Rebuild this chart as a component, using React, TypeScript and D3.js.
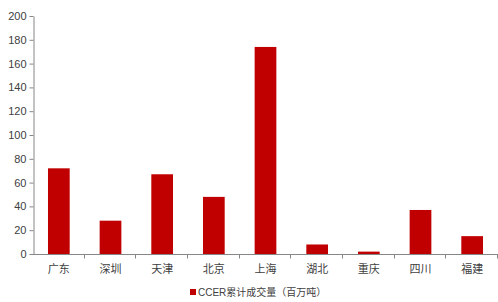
import React, { useRef, useEffect } from "react";
import * as d3 from "d3";

const categories = ["广东", "深圳", "天津", "北京", "上海", "湖北", "重庆", "四川", "福建"];
const volumes = [72, 28, 67, 48, 174, 8, 2, 37, 15];
const yTicks = [0, 20, 40, 60, 80, 100, 120, 140, 160, 180, 200];
const seriesName = "CCER累计成交量（百万吨）";

const App = () => {
  const ref = useRef<SVGSVGElement>(null);

  useEffect(() => {
    const width = 498;
    const height = 302;
    const margin = { top: 16, right: 0, bottom: 48, left: 33 };
    const font = "'Liberation Sans', Arial, 'Noto Sans CJK SC', sans-serif";

    const svg = d3.select(ref.current);
    svg.selectAll("*").remove();

    const x = d3
      .scaleBand()
      .domain(categories)
      .range([margin.left, width - margin.right])
      .paddingInner(0.58)
      .paddingOuter(0.29);
    const xAxisScale = d3.scaleBand().domain(categories).range([margin.left, width - margin.right]);
    const y = d3.scaleLinear().domain([0, 200]).range([height - margin.bottom, margin.top]);

    // bars
    svg
      .append("g")
      .selectAll("rect")
      .data(categories)
      .enter()
      .append("rect")
      .attr("x", (d) => x(d)!)
      .attr("y", (d, i) => y(volumes[i]))
      .attr("width", x.bandwidth())
      .attr("height", (d, i) => y(0) - y(volumes[i]))
      .attr("fill", "#C00000");

    const axisColor = "#868686";

    // y axis
    const yAxis = svg
      .append("g")
      .attr("transform", `translate(${margin.left + 0.5},0)`)
      .call(d3.axisLeft(y).tickValues(yTicks).tickSize(4).tickSizeOuter(0).tickPadding(3));
    yAxis.select(".domain").attr("stroke", axisColor);
    yAxis.selectAll(".tick line").attr("stroke", axisColor);
    yAxis.selectAll(".tick text").attr("fill", "#404040").style("font-family", font).style("font-size", "11px");

    // x axis (tick marks between categories)
    const xg = svg.append("g").attr("transform", `translate(0,${y(0) + 0.5})`);
    xg.append("line")
      .attr("x1", margin.left)
      .attr("x2", width - margin.right)
      .attr("stroke", axisColor);
    xg.selectAll(".sep")
      .data(categories)
      .enter()
      .append("line")
      .attr("class", "sep")
      .attr("x1", (d) => Math.round(xAxisScale(d)! + xAxisScale.bandwidth()) - 0.5)
      .attr("x2", (d) => Math.round(xAxisScale(d)! + xAxisScale.bandwidth()) - 0.5)
      .attr("y1", 0)
      .attr("y2", 4)
      .attr("stroke", axisColor);
    xg.selectAll(".lbl")
      .data(categories)
      .enter()
      .append("text")
      .attr("x", (d) => xAxisScale(d)! + xAxisScale.bandwidth() / 2)
      .attr("y", 18)
      .attr("text-anchor", "middle")
      .attr("fill", "#404040")
      .style("font-family", font)
      .style("font-size", "11px")
      .text((d) => d);

    // legend
    const lg = svg.append("g").attr("transform", `translate(190,293)`);
    lg.append("rect").attr("x", 0).attr("y", -4).attr("width", 6).attr("height", 6).attr("fill", "#C00000");
    lg.append("text")
      .attr("x", 8)
      .attr("y", 3)
      .attr("fill", "#404040")
      .style("font-family", font)
      .style("font-size", "10px")
      .text(seriesName);
  }, []);

  return (
    <svg
      ref={ref}
      width={498}
      height={302}
      style={{ position: "absolute", left: 0, top: 0, background: "#fff" }}
    />
  );
};

export default App;
